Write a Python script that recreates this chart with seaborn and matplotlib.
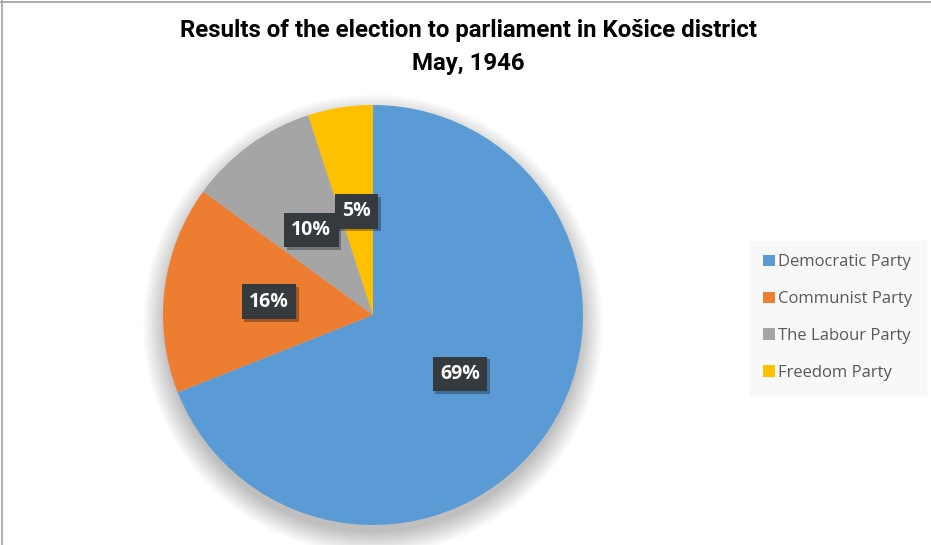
import matplotlib
matplotlib.use("Agg")
import matplotlib.pyplot as plt
import matplotlib.patheffects as pe
from matplotlib.patches import Circle, Patch
from matplotlib.lines import Line2D
import seaborn as sns

parties = ["Democratic Party", "Communist Party", "The Labour Party", "Freedom Party"]
shares = [69, 16, 10, 5]
colors = ["#5B9BD5", "#ED7D31", "#A5A5A5", "#FFC000"]
title_lines = ["Results of the election to parliament in Košice district", "May, 1946"]

sns.set_theme(style="white")
plt.rcParams["font.family"] = ["Open Sans", "DejaVu Sans"]

W, H = 931, 545
fig = plt.figure(figsize=(W / 100, H / 100), dpi=100)
fig.patch.set_facecolor("white")

cx, cy, r = 373, 315, 210
ax = fig.add_axes([(cx - r) / W, (H - cy - r) / H, 2 * r / W, 2 * r / H])

# soft shadow behind pie
for i in range(16):
    ax.add_patch(Circle((0.0, -0.045), 0.99 + 0.007 * i, facecolor="black",
                        edgecolor="none", alpha=0.015, zorder=0, clip_on=False))

wedges, texts, autotexts = ax.pie(
    shares, colors=colors, startangle=90, counterclock=False,
    autopct="%d%%", pctdistance=0.5, radius=1.0,
    wedgeprops=dict(linewidth=0, zorder=2),
    textprops=dict(color="white", fontsize=14, fontweight="bold"),
)
ax.set_xlim(-1, 1)
ax.set_ylim(-1, 1)
ax.set_aspect("equal")
ax.axis("off")

for t in autotexts:
    t.set_zorder(5)
    t.set_bbox(dict(boxstyle="square,pad=0.38", facecolor="#343a3e", edgecolor="none"))
    t.get_bbox_patch().set_path_effects([
        pe.withSimplePatchShadow(offset=(2, -2), shadow_rgbFace="black", alpha=0.3),
        pe.Normal()])

for line, y in zip(title_lines, [31, 63]):
    fig.text(0.503, 1 - y / H, line, ha="center", va="center", fontsize=17.3,
             fontweight="bold", color="black", family=["Roboto", "DejaVu Sans"])

handles = [Patch(facecolor=c, edgecolor="none") for c in colors]
leg = fig.legend(handles, parties, loc="upper left",
                 bbox_to_anchor=(750 / W, 1 - 241 / H),
                 frameon=True, fancybox=False, fontsize=12,
                 handlelength=0.7, handleheight=0.7, handletextpad=0.2,
                 labelspacing=1.25, borderpad=0.8, borderaxespad=0,
                 labelcolor="#595959")
leg.get_frame().set_facecolor("#f7f7f7")
leg.get_frame().set_edgecolor("#f7f7f7")

# chart border (left and top visible)
fig.add_artist(Line2D([1.5 / W, 1.5 / W], [0, 1], color="#a0a0a0", lw=1.2))
fig.add_artist(Line2D([0, 1], [1 - 1.5 / H, 1 - 1.5 / H], color="#a0a0a0", lw=1.2))

fig.savefig("out.png", dpi=100, facecolor="white")
